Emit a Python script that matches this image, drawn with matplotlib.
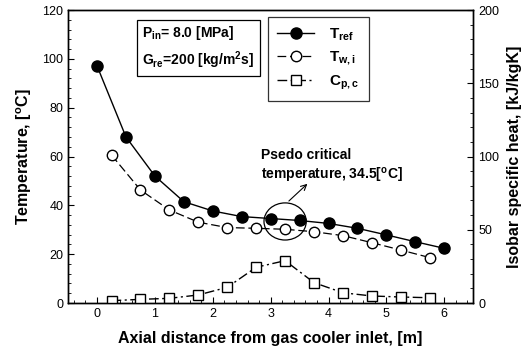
import numpy as np
import matplotlib
matplotlib.use("Agg")
import matplotlib.pyplot as plt
from matplotlib.patches import Ellipse

plt.rcParams['font.family'] = ['Liberation Sans', 'DejaVu Sans']
plt.rcParams['mathtext.fontset'] = 'custom'
plt.rcParams['mathtext.rm'] = 'Liberation Sans:bold'
plt.rcParams['mathtext.it'] = 'Liberation Sans:bold'
plt.rcParams['mathtext.bf'] = 'Liberation Sans:bold'
plt.rcParams['mathtext.default'] = 'regular'

# data
x_ref = [0, 0.5, 1, 1.5, 2, 2.5, 3, 3.5, 4, 4.5, 5, 5.5, 6]
t_ref = [97.1, 68.0, 52.0, 41.5, 37.7, 35.4, 34.6, 33.8, 32.6, 30.6, 27.9, 25.1, 22.4]

x_mid = [0.25, 0.75, 1.25, 1.75, 2.25, 2.75, 3.25, 3.75, 4.25, 4.75, 5.25, 5.75]
t_wi = [60.6, 46.3, 38.1, 33.1, 30.9, 30.6, 30.2, 29.2, 27.6, 24.7, 21.7, 18.6]
cp_c = [1.6, 2.5, 3.2, 5.5, 10.7, 24.4, 28.9, 13.9, 7.0, 4.8, 4.1, 3.6]

fig = plt.figure(figsize=(5.24, 3.53), dpi=100)
ax = fig.add_axes([0.130, 0.1416, 0.773, 0.830])
ax2 = ax.twinx()

l1, = ax.plot(x_ref, t_ref, color='black', linestyle='-', lw=1.0, marker='o',
              ms=8, mfc='black', mec='black', label=r'$T_{ref}$')
l2, = ax.plot(x_mid, t_wi, color='black', linestyle=(0, (7, 3)), lw=0.9, marker='o',
              ms=7.5, mfc='white', mec='black', mew=1.0, label=r'$T_{w,i}$')
l3, = ax2.plot(x_mid, cp_c, color='black', linestyle=(0, (7, 2.5, 1.5, 2.5)), lw=1.0,
               marker='s', ms=6.5, mfc='white', mec='black', mew=1.0, label=r'$C_{p,c}$')

ax.set_xlim(-0.5, 6.5)
ax.set_ylim(0, 120)
ax2.set_ylim(0, 200)
ax.set_xticks(range(0, 7))
ax.set_xticks(np.arange(-0.4, 6.5, 0.2), minor=True)
ax.set_yticks(range(0, 121, 20))
ax.set_yticks(range(0, 121, 4), minor=True)
ax2.set_yticks([0, 50, 100, 150, 200])
ax2.set_yticks(range(0, 201, 10), minor=True)

for a in (ax, ax2):
    a.tick_params(which='major', direction='in', length=4, width=0.8, labelsize=9)
    a.tick_params(which='minor', direction='in', length=2, width=0.6)
    for s in a.spines.values():
        s.set_linewidth(1.0)

ax.set_xlabel('Axial distance from gas cooler inlet, [m]', fontsize=11.5, fontweight='bold', labelpad=8)
ax.set_ylabel(r'Temperature, [$^{o}$C]', fontsize=11.5, fontweight='bold', labelpad=6)
ax2.set_ylabel('Isobar specific heat, [kJ/kgK]', fontsize=11.5, fontweight='bold', labelpad=6)

ax.text(0.183, 0.952, 'P$_{in}$= 8.0 [MPa]\nG$_{re}$=200 [kg/m$^2$s]', transform=ax.transAxes,
        fontsize=10, fontweight='bold', va='top', ha='left', linespacing=1.45,
        bbox=dict(boxstyle='square,pad=0.4', fc='white', ec='black', lw=0.9))

leg = ax.legend(handles=[l1, l2, l3], loc='upper left', bbox_to_anchor=(0.494, 0.976),
                borderaxespad=0, fancybox=False, edgecolor='black',
                prop={'weight': 'bold', 'size': 11},
                handlelength=2.4, handletextpad=1.0, labelspacing=0.45, borderpad=0.6)
leg.get_frame().set_linewidth(0.9)
leg.set_zorder(5)

ell = Ellipse((3.25, 33.4), 0.73, 15.2, fill=False, ec='black', lw=0.9)
ax.add_patch(ell)
ax.annotate('', xy=(3.67, 49.6), xytext=(3.28, 41.0),
            arrowprops=dict(arrowstyle='->', color='black', lw=0.8))
ax.text(2.84, 63.5, 'Psedo critical\ntemperature, 34.5[$^{o}$C]', fontsize=10,
        fontweight='bold', va='top', ha='left', linespacing=1.3)

fig.savefig('out.png', dpi=100)
